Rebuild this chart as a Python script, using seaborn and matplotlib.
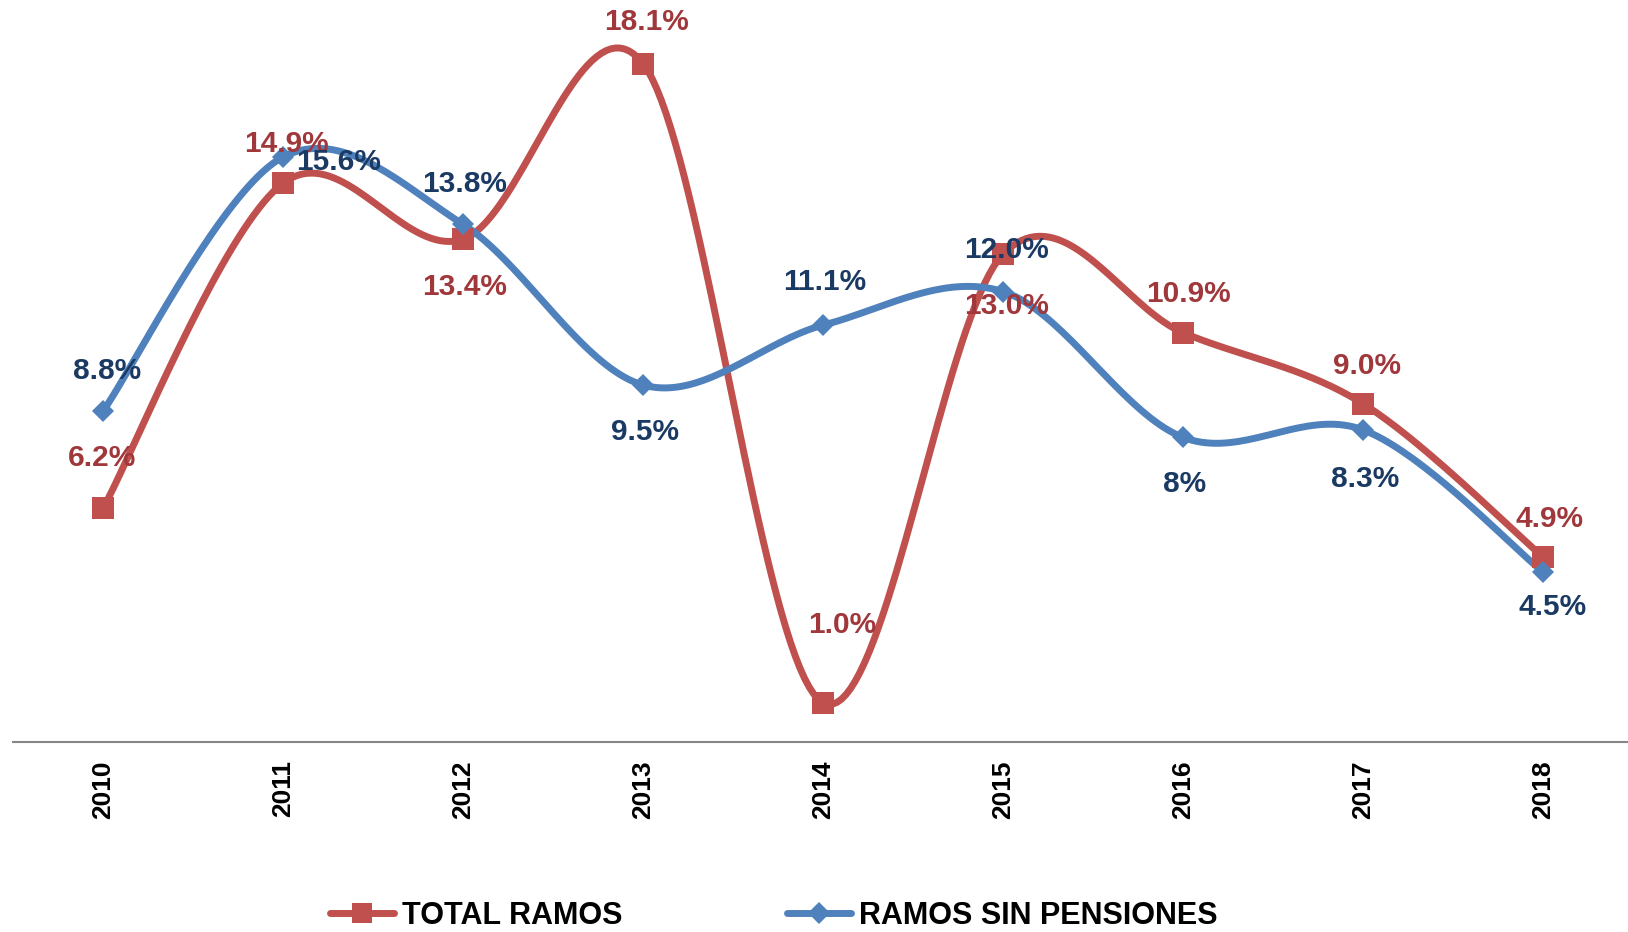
import numpy as np
import pandas as pd
import matplotlib
matplotlib.use("Agg")
import matplotlib.pyplot as plt
import seaborn as sns

sns.set_style("white")
plt.rcParams['font.family'] = ['Liberation Sans', 'DejaVu Sans']

years = ['2010', '2011', '2012', '2013', '2014', '2015', '2016', '2017', '2018']
total_ramos = [6.2, 14.9, 13.4, 18.1, 1.0, 13.0, 10.9, 9.0, 4.9]
sin_pensiones = [8.8, 15.6, 13.8, 9.5, 11.1, 12.0, 8.1, 8.3, 4.5]
total_labels = ['6.2%', '14.9%', '13.4%', '18.1%', '1.0%', '13.0%', '10.9%', '9.0%', '4.9%']
sin_labels = ['8.8%', '15.6%', '13.8%', '9.5%', '11.1%', '12.0%', '8%', '8.3%', '4.5%']

# label offsets in pixels (dx, dy downwards)
total_off = [(-1, -50), (3, -39), (2, 48), (4, -42), (19, -78), (4, 52), (5, -39), (4, -38), (7, -38)]
sin_off = [(4, -40), (56, 5), (2, -40), (2, 47), (2, -43), (3, -42), (2, 47), (2, 49), (10, 35)]

RED = '#C0504D'
BLUE = '#4F81BD'
RED_TXT = '#A0373A'
BLUE_TXT = '#1B3A63'


def smooth(y, n=40):
    # excel style smoothed line: cubic bezier, control points from neighbours
    x = np.arange(len(y), dtype=float)
    y = np.asarray(y, dtype=float)
    px, py = [], []
    for i in range(len(y) - 1):
        i0, i3 = max(i - 1, 0), min(i + 2, len(y) - 1)
        c1 = (x[i] + (x[i + 1] - x[i0]) / 6, y[i] + (y[i + 1] - y[i0]) / 6)
        c2 = (x[i + 1] - (x[i3] - x[i]) / 6, y[i + 1] - (y[i3] - y[i]) / 6)
        t = np.linspace(0, 1, n)
        a, b, c, d = (1 - t) ** 3, 3 * (1 - t) ** 2 * t, 3 * (1 - t) * t ** 2, t ** 3
        px.extend(a * x[i] + b * c1[0] + c * c2[0] + d * x[i + 1])
        py.extend(a * y[i] + b * c1[1] + c * c2[1] + d * y[i + 1])
    return pd.DataFrame({'x': px, 'y': py})


fig = plt.figure(figsize=(16.28, 9.32), dpi=100)
ax = fig.add_axes([13 / 1628, (932 - 742) / 932, 1620 / 1628, 742 / 932])

series = [
    (total_ramos, total_labels, total_off, RED, RED_TXT, 's', 15.5, 'TOTAL RAMOS'),
    (sin_pensiones, sin_labels, sin_off, BLUE, BLUE_TXT, 'D', 11.5, 'RAMOS SIN PENSIONES'),
]

handles = []
for vals, labels, offs, col, tcol, mk, ms, name in series:
    curve = smooth(vals)
    sns.lineplot(data=curve, x='x', y='y', ax=ax, color=col, linewidth=5, sort=False,
                 legend=False, zorder=2)
    pts = pd.DataFrame({'x': np.arange(len(vals)), 'y': vals})
    ax.plot(pts['x'], pts['y'], linestyle='none', marker=mk, markersize=ms,
            color=col, markeredgewidth=0, zorder=3)
    for i, (v, lab) in enumerate(zip(vals, labels)):
        dx, dy = offs[i]
        ax.annotate(lab, (i, v), xytext=(dx * 0.72, -dy * 0.72), textcoords='offset points',
                    ha='center', va='center', fontsize=21.5, fontweight='bold',
                    color=tcol, zorder=5)
    h, = ax.plot([], [], color=col, linewidth=5, marker=mk, markersize=ms * 0.95,
                 markeredgewidth=0, label=name)
    handles.append(h)

if ax.get_legend() is not None:
    ax.get_legend().remove()

ax.set_xlim(-0.5, 8.5)
ax.set_ylim(-0.05, 19.8)
ax.set_xlabel('')
ax.set_ylabel('')
ax.set_yticks([])
ax.set_xticks(range(len(years)))
ax.set_xticklabels(years, rotation=90, fontsize=19, fontweight='bold', color='black')
ax.set_xticks(np.arange(-0.5, 9.0, 1.0), minor=True)
ax.tick_params(axis='x', which='major', length=0, pad=13)
ax.tick_params(axis='x', which='minor', length=6, width=1.5, color='#868686', direction='out')
for s in ['top', 'right', 'left']:
    ax.spines[s].set_visible(False)
ax.spines['bottom'].set_color('#868686')
ax.spines['bottom'].set_linewidth(1.5)

leg = fig.legend(handles=handles, loc='center left', bbox_to_anchor=(330 / 1628, 1 - 916 / 932),
                 ncol=2, frameon=False, handlelength=2.1, handletextpad=0.25, columnspacing=5.4,
                 borderpad=0, borderaxespad=0,
                 prop={'size': 22, 'weight': 'bold'})
for t in leg.get_texts():
    t.set_color('black')

fig.savefig('out.png', dpi=100, facecolor='white')
